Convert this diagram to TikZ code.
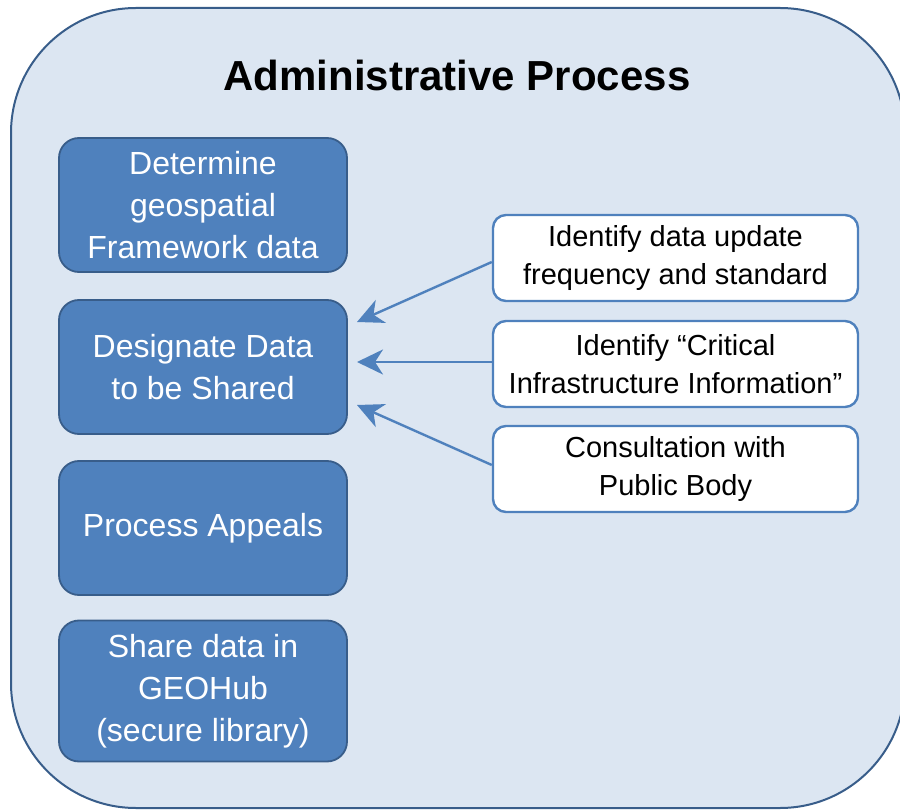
\documentclass[tikz,border=0pt]{standalone}
\usepackage{fontspec}
\setmainfont{Liberation Sans}
\usepackage{xcolor}
\definecolor{Col1}{RGB}{79,129,189}
\definecolor{Col2}{RGB}{56,93,138}
\definecolor{Col3}{RGB}{220,230,242}
\usepackage{tikz}
\usetikzlibrary{arrows.meta}
\tikzstyle{Frame}=[draw=Col2,fill=Col3,line width=2pt,rounded corners=125pt]
\tikzstyle{Step}=[draw=Col2,fill=Col1,line width=1.8pt,rounded corners=20pt,
text=white,align=center,minimum width=288pt,minimum height=134pt,inner sep=0pt,
font=\fontsize{32}{42}\selectfont]
\tikzstyle{Task}=[draw=Col1,fill=white,line width=2.4pt,rounded corners=13pt,
align=center,minimum width=365pt,minimum height=86pt,inner sep=0pt,
font=\fontsize{29}{38}\selectfont]
\tikzstyle{Edge}=[draw=Col1,line width=2.4pt,
-{Stealth[length=26pt,width=25pt,inset=8pt]}]
\tikzstyle{Title}=[font=\fontsize{42}{50}\selectfont\bfseries]

\begin{document}
\begin{tikzpicture}[x=1pt,y=-1pt]
        \useasboundingbox(0,0)rectangle(900,810);
        \draw[Frame](11,8)rectangle(905,808);
        \node[Title](title)at(457,75){Administrative Process};
        % left column
        \node[Step](det)at(203,205){Determine\\geospatial\\Framework data};
        \node[Step](des)at(203,367){Designate Data\\to be Shared};
        \node[Step](app)at(203,528){Process Appeals};
        \node[Step,minimum height=141pt](shr)at(203,691){Share data in\\GEOHub\\(secure library)};
        % right column
        \node[Task](upd)at(675.5,258){Identify data update\\frequency and standard};
        \node[Task](cii)at(675.5,364){Identify “Critical\\Infrastructure Information”};
        \node[Task](pub)at(675.5,469){Consultation with\\Public Body};
        \coordinate(t1)at(357,322);
        \coordinate(t2)at(357,362);
        \coordinate(t3)at(357,405);
        \draw[Edge]([yshift=-4pt]upd.west)--(t1);
        \draw[Edge]([yshift=2pt]cii.west)--(t2);
        \draw[Edge]([yshift=4pt]pub.west)--(t3);
    \end{tikzpicture}
\end{document}
